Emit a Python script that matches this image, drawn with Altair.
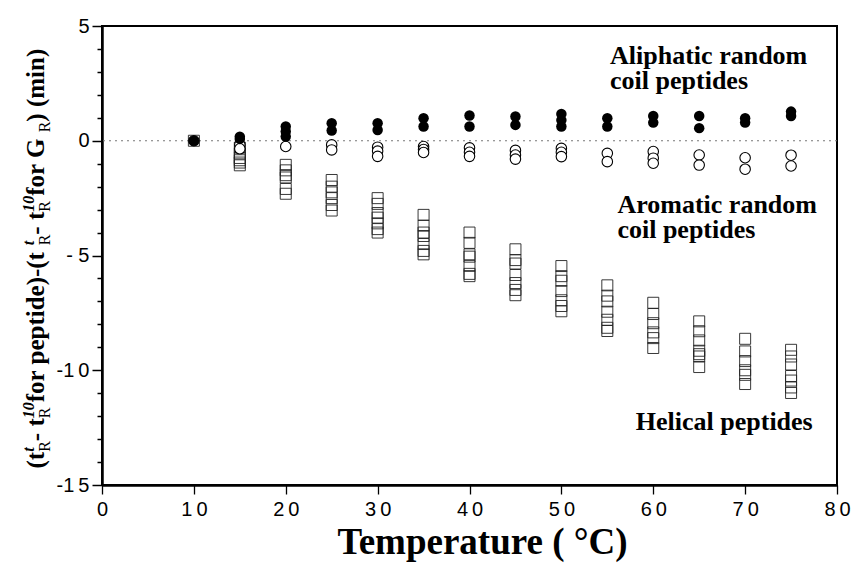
import altair as alt
import pandas as pd

# ---------------- data ----------------
temps = [10, 15, 20, 25, 30, 35, 40, 45, 50, 55, 60, 65, 70, 75]

aliphatic = [
    [0.0],
    [0.18, 0.08],
    [0.62, 0.40, 0.18],
    [0.76, 0.45],
    [0.76, 0.47],
    [0.98, 0.62],
    [1.10, 0.62],
    [1.06, 0.69],
    [1.17, 0.90, 0.62],
    [0.98, 0.62],
    [1.08, 0.79],
    [1.08, 0.55],
    [0.98, 0.79],
    [1.27, 1.08],
]
aromatic = [
    [0.0],
    [-0.18, -0.35],
    [-0.25],
    [-0.18, -0.40],
    [-0.28, -0.45, -0.68],
    [-0.25, -0.38, -0.51],
    [-0.31, -0.50, -0.68],
    [-0.42, -0.62, -0.80],
    [-0.33, -0.50, -0.69],
    [-0.55, -0.91],
    [-0.47, -0.76, -0.98],
    [-0.62, -1.06],
    [-0.74, -1.24],
    [-0.63, -1.10],
]
helical = [
    [0.0],
    [-0.30, -0.55, -0.75, -0.85, -0.95, -1.07],
    [-1.05, -1.29, -1.50, -1.60, -2.10, -2.31],
    [-1.71, -2.00, -2.25, -2.50, -2.80, -3.04],
    [-2.50, -2.75, -3.15, -3.35, -3.60, -3.85, -4.00],
    [-3.23, -3.70, -4.00, -4.15, -4.50, -4.80, -4.95],
    [-4.00, -4.45, -4.95, -5.05, -5.45, -5.80, -5.90],
    [-4.73, -5.20, -5.35, -5.85, -6.20, -6.50, -6.73],
    [-5.46, -5.90, -6.10, -6.55, -6.95, -7.20, -7.43],
    [-6.30, -6.75, -7.00, -7.45, -7.80, -8.15, -8.29],
    [-7.06, -7.55, -7.95, -8.35, -8.60, -9.03],
    [-7.87, -8.30, -8.70, -9.15, -9.30, -9.40, -9.86],
    [-8.63, -9.18, -9.60, -10.00, -10.20, -10.60],
    [-9.11, -9.40, -9.75, -10.25, -10.45, -10.75, -10.99],
]

ann_labels = ["Aliphatic random\ncoil peptides", "Aromatic random\ncoil peptides", "Helical peptides"]
ann_x = [55.3, 56.1, 58.1]
ann_y = [3.35, -3.15, -12.6]

x_title = "Temperature ( \u00b0C)"

# ---------------- layout ----------------
W, H = 735, 459
PAD_L, PAD_T = 102, 26


def long_df(groups):
    rows = []
    for t, vals in zip(temps, groups):
        for v in vals:
            rows.append({"T": t, "v": v})
    return pd.DataFrame(rows)


df_ali = long_df(aliphatic)
df_aro = long_df(aromatic)
df_hel = long_df(helical)

xscale = alt.Scale(domain=[0, 80], nice=False, zero=False)
yscale = alt.Scale(domain=[-15, 5], nice=False, zero=False)

xaxis = alt.Axis(
    values=list(range(0, 81, 10)), grid=False,
    tickSize=9, tickWidth=1.3, tickColor="black",
    domainColor="black", domainWidth=2.5,
    labelFont="Liberation Sans", labelFontSize=20, labelColor="black",
    labelPadding=5, labelFlush=False,
    labelExpr="join(split(datum.label, ''), '\u2009')",
    title=x_title, titleFont="Liberation Serif", titleFontSize=37,
    titleFontWeight="bold", titleColor="black",
    titleBaseline="alphabetic", titleY=68, titleX=380,
)
yaxis = alt.Axis(
    values=list(range(-15, 6)), grid=False,
    tickSize={"condition": {"test": "datum.value % 5 === 0", "value": 10}, "value": 5},
    tickWidth=1.5, tickColor="black",
    domainColor="black", domainWidth=2.5,
    labelFont="Liberation Sans", labelFontSize=20, labelColor="black",
    labelPadding=3, labelFlush=False,
    labelExpr="datum.value % 5 === 0 ? (datum.value < 0 ? (datum.value > -10 ? '- ' : '-') : '') + join(split(toString(abs(datum.value)), ''), '\u2009') : ''",
    title=None,
)

X = alt.X("T:Q", scale=xscale, axis=xaxis)
Y = alt.Y("v:Q", scale=yscale, axis=yaxis)

zero = alt.Chart(pd.DataFrame({"v": [0]})).mark_rule(
    color="#777777", strokeDash=[2, 4], strokeWidth=1
).encode(y=Y)

squares = alt.Chart(df_hel).mark_point(
    shape="square", filled=False, color="#222222", strokeWidth=0.9, size=121, opacity=1
).encode(x=X, y=Y)

open_c = alt.Chart(df_aro).mark_point(
    shape="circle", filled=True, fill="white", stroke="black",
    strokeWidth=1.1, size=110, opacity=1, fillOpacity=1
).encode(x=X, y=Y)

filled_c = alt.Chart(df_ali).mark_point(
    shape="circle", filled=True, color="black", size=110, opacity=1
).encode(x=X, y=Y)

ann_df = pd.DataFrame({"T": ann_x, "v": ann_y, "label": ann_labels})
ann = alt.Chart(ann_df).mark_text(
    align="left", baseline="alphabetic", font="Liberation Serif",
    fontWeight="bold", fontSize=26, lineBreak="\n", lineHeight=25, color="black"
).encode(x=X, y=Y, text="label:N")

# ---------------- rotated y-axis title with sub/superscripts ----------------
TB = {" ": 250, "(": 333, ")": 333, "-": 333, "t": 333, "f": 333, "o": 500, "r": 444,
      "p": 556, "e": 444, "i": 278, "d": 556, "G": 760, "m": 833, "n": 556, "R": 722}
F, S = 25, 16
segments = [
    ("main", "(t"), ("ss", "t", "R"), ("main", "- t"), ("ss", "10", "R"),
    ("main", " for peptide)-(t"), ("ss", "t", "R"), ("main", "- t"), ("ss", "10", "R"),
    ("main", " for G"), ("ss", "", "R"), ("main", " ) (min)"),
]


def width(txt, size):
    return sum(TB.get(c, 500) for c in txt) * size / 1000.0


def ss_adv(sup):
    return max(len(sup) * 500 * S / 1000.0, 667 * S / 1000.0)


total = 0.0
for seg in segments:
    total += width(seg[1], F) if seg[0] == "main" else ss_adv(seg[1])

base_x = -58.0
start_y = H / 2 + total / 2
main_rows, sup_rows, sub_rows = [], [], []
pos = 0.0
for seg in segments:
    if seg[0] == "main":
        main_rows.append({"px": base_x, "py": start_y - pos, "s": seg[1]})
        pos += width(seg[1], F)
    else:
        if seg[1]:
            sup_rows.append({"px": base_x - 0.42 * F, "py": start_y - pos, "s": seg[1]})
        sub_rows.append({"px": base_x + 0.22 * F, "py": start_y - pos, "s": seg[2]})
        pos += ss_adv(seg[1])

PX = alt.X("px:Q", scale=None, axis=None)
PY = alt.Y("py:Q", scale=None, axis=None)

t_main = alt.Chart(pd.DataFrame(main_rows)).mark_text(
    angle=270, align="left", baseline="alphabetic", font="Liberation Serif",
    fontWeight="bold", fontSize=F, color="black"
).encode(x=PX, y=PY, text="s:N")
t_sup = alt.Chart(pd.DataFrame(sup_rows)).mark_text(
    angle=270, align="left", baseline="alphabetic", font="Liberation Serif",
    fontWeight="bold", fontStyle="italic", fontSize=S, color="black"
).encode(x=PX, y=PY, text="s:N")
t_sub = alt.Chart(pd.DataFrame(sub_rows)).mark_text(
    angle=270, align="left", baseline="alphabetic", font="Liberation Serif",
    fontWeight="normal", fontSize=S, color="black"
).encode(x=PX, y=PY, text="s:N")

chart = alt.layer(
    zero, squares, open_c, filled_c, ann, t_main, t_sup, t_sub
).properties(
    width=W, height=H,
    autosize=alt.AutoSizeParams(type="none"),
    padding={"left": PAD_L, "top": PAD_T, "right": 851 - PAD_L - W, "bottom": 565 - PAD_T - H},
    background="white",
).configure_view(
    stroke="black", strokeWidth=2
)

chart.save("out.html", embed_options={"renderer": "svg", "actions": False})
